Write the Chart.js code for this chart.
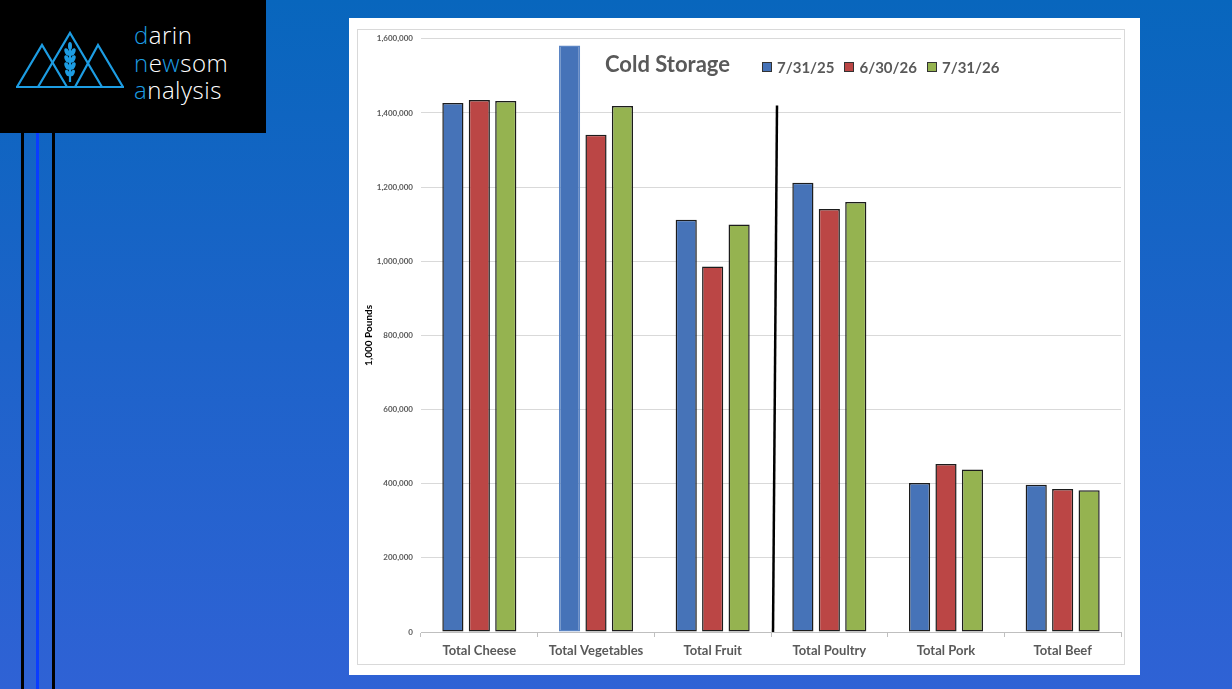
<!DOCTYPE html>
<html lang="en">
<head>
    <meta charset="UTF-8">
    <title>Cold Storage</title>
    <script src="https://cdn.jsdelivr.net/npm/chart.js"></script>
    <style>
        html, body {
            margin: 0;
            padding: 0;
        }

        body {
            width: 1232px;
            height: 689px;
            position: relative;
            overflow: hidden;
            background: linear-gradient(180deg, #0866bd 0%, #1d63c9 50%, #2f62d5 100%);
            font-family: Lato, "Open Sans", sans-serif;
        }

        #logo {
            position: absolute;
            left: 0;
            top: 0;
            width: 266px;
            height: 133px;
            background: #000;
        }

        #logo svg {
            position: absolute;
            left: 0;
            top: 0;
        }

        #logo .words {
            position: absolute;
            left: 134px;
            top: 21px;
            color: #fff;
            font-family: "Open Sans", sans-serif;
            font-weight: 300;
            font-size: 24px;
            line-height: 27.5px;
            letter-spacing: 0.5px;
        }

        #logo .words b {
            font-weight: 300;
            color: #1d9de3;
        }

        .stripe {
            position: absolute;
            top: 133px;
            bottom: 0;
        }

        #panel {
            position: absolute;
            left: 349px;
            top: 18px;
            width: 791px;
            height: 657px;
            background: #fff;
        }

        #frame {
            position: absolute;
            left: 8px;
            top: 11px;
            width: 766px;
            height: 634px;
            border: 1px solid #d9d9d9;
        }

        #chart-box {
            position: absolute;
            left: 9px;
            top: 8px;
            width: 765px;
            height: 637px;
        }

        #title {
            position: absolute;
            left: 256px;
            top: 32px;
            font-size: 22px;
            font-weight: bold;
            color: #595959;
        }

        #legend {
            position: absolute;
            left: 413px;
            top: 40px;
            display: flex;
            font-size: 15px;
            font-weight: bold;
            color: #595959;
        }

        #legend span.item {
            display: flex;
            align-items: center;
            margin-right: 10px;
        }

        #legend span.box {
            display: inline-block;
            width: 8px;
            height: 8px;
            border: 1px solid #333;
            margin-right: 5px;
        }
    </style>
</head>
<body>
    <div id="logo">
        <svg width="140" height="133" viewBox="0 0 140 133">
            <g fill="none" stroke="#1d9de3" stroke-width="2.2" stroke-linejoin="miter">
                <polyline points="17,87 42,45 67,87"/>
                <polyline points="38,87 70,33 102,87"/>
                <polyline points="75,87 98,45 123,87"/>
                <line x1="16" y1="87" x2="124" y2="87"/>
                <line x1="70" y1="44" x2="70" y2="82"/>
            </g>
            <g fill="#1d9de3">
                <ellipse cx="70" cy="46" rx="2" ry="4"/>
                <ellipse cx="67" cy="52" rx="2.2" ry="4" transform="rotate(-25 67 52)"/>
                <ellipse cx="73" cy="52" rx="2.2" ry="4" transform="rotate(25 73 52)"/>
                <ellipse cx="67" cy="59" rx="2.2" ry="4" transform="rotate(-25 67 59)"/>
                <ellipse cx="73" cy="59" rx="2.2" ry="4" transform="rotate(25 73 59)"/>
                <ellipse cx="67" cy="66" rx="2.2" ry="4" transform="rotate(-25 67 66)"/>
                <ellipse cx="73" cy="66" rx="2.2" ry="4" transform="rotate(25 73 66)"/>
                <ellipse cx="67.5" cy="73" rx="2" ry="3.5" transform="rotate(-25 67.5 73)"/>
                <ellipse cx="72.5" cy="73" rx="2" ry="3.5" transform="rotate(25 72.5 73)"/>
            </g>
        </svg>
        <div class="words">
            <div><b>d</b>arin</div>
            <div><b>n</b>e<b>w</b>som</div>
            <div><b>a</b>nalysis</div>
        </div>
    </div>

    <div class="stripe" style="left:21px;width:3px;background:#000;"></div>
    <div class="stripe" style="left:36px;width:3px;background:#0a3cff;"></div>
    <div class="stripe" style="left:52px;width:3px;background:#000;"></div>

    <div id="panel">
        <div id="frame"></div>
        <div id="chart-box">
            <canvas id="storageChart"></canvas>
        </div>
        <div id="title">Cold Storage</div>
        <div id="legend"></div>
    </div>

    <script>
        // данные, 1,000 фунтов
        const categories = ['Total Cheese', 'Total Vegetables', 'Total Fruit', 'Total Poultry', 'Total Pork', 'Total Beef'];
        const seriesNames = ['7/31/25', '6/30/26', '7/31/26'];
        const jul25 = [1427000, 1582000, 1112000, 1212000, 402000, 397000];
        const jun26 = [1435000, 1341000, 986000, 1141000, 453000, 386000];
        const jul26 = [1432000, 1419000, 1099000, 1160000, 438000, 382000];
        const yTicks = [0, 200000, 400000, 600000, 800000, 1000000, 1200000, 1400000, 1600000];

        const colors = ['#4673b8', '#bb4645', '#95b350'];
        const separatorTop = 1420000; // черта между фруктами и птицей

        const legend = document.getElementById('legend');
        seriesNames.forEach((name, i) => {
            legend.innerHTML += `<span class="item"><span class="box" style="background:${colors[i]}"></span>${name}</span>`;
        });

        const separator = {
            id: 'separator',
            afterDatasetsDraw(chart) {
                const x = chart.scales.x;
                const y = chart.scales.y;
                const mid = (x.getPixelForValue(2) + x.getPixelForValue(3)) / 2;
                const ctx = chart.ctx;
                ctx.save();
                ctx.strokeStyle = '#000';
                ctx.lineWidth = 2.5;
                ctx.beginPath();
                ctx.moveTo(mid + 2, y.getPixelForValue(0));
                ctx.lineTo(mid + 6, y.getPixelForValue(separatorTop));
                ctx.stroke();
                ctx.restore();
            }
        };

        const makeSet = (i, data) => ({
            label: seriesNames[i],
            data: data,
            backgroundColor: colors[i],
            borderColor: '#1c1c1c',
            borderWidth: 1.5,
            borderSkipped: false,
            categoryPercentage: 0.68,
            barPercentage: 0.8
        });

        const blueSet = makeSet(0, jul25);
        // у синего столбца овощей нет чёрной рамки
        blueSet.borderColor = categories.map(c => c === 'Total Vegetables' ? '#5b85c4' : '#1c1c1c');

        new Chart(document.getElementById('storageChart'), {
            type: 'bar',
            data: {
                labels: categories,
                datasets: [blueSet, makeSet(1, jun26), makeSet(2, jul26)]
            },
            options: {
                responsive: true,
                maintainAspectRatio: false,
                animation: false,
                layout: {
                    padding: { top: 4, right: 2, left: 5, bottom: 0 }
                },
                plugins: {
                    legend: { display: false },
                    tooltip: { enabled: false }
                },
                scales: {
                    x: {
                        afterFit: s => { s.height = 31; },
                        border: { color: '#bfbfbf' },
                        grid: {
                            offset: true,
                            drawOnChartArea: false,
                            drawTicks: true,
                            tickLength: 5,
                            color: '#bfbfbf'
                        },
                        ticks: {
                            color: '#595959',
                            padding: 6,
                            font: { family: 'Lato', size: 13, weight: 'bold' }
                        }
                    },
                    y: {
                        min: 0,
                        max: 1600000,
                        afterFit: s => { s.width = 58; },
                        afterBuildTicks: s => { s.ticks = yTicks.map(v => ({ value: v })); },
                        border: { display: false },
                        grid: {
                            color: '#d9d9d9',
                            drawTicks: false
                        },
                        ticks: {
                            color: '#595959',
                            padding: 8,
                            font: { family: 'Lato', size: 8, weight: 'bold' },
                            callback: v => v.toLocaleString('en-US')
                        },
                        title: {
                            display: true,
                            text: '1,000 Pounds',
                            color: '#000',
                            padding: { top: 0, bottom: 0 },
                            font: { family: 'Lato', size: 10, weight: 'bold' }
                        }
                    }
                }
            },
            plugins: [separator]
        });
    </script>
</body>
</html>
